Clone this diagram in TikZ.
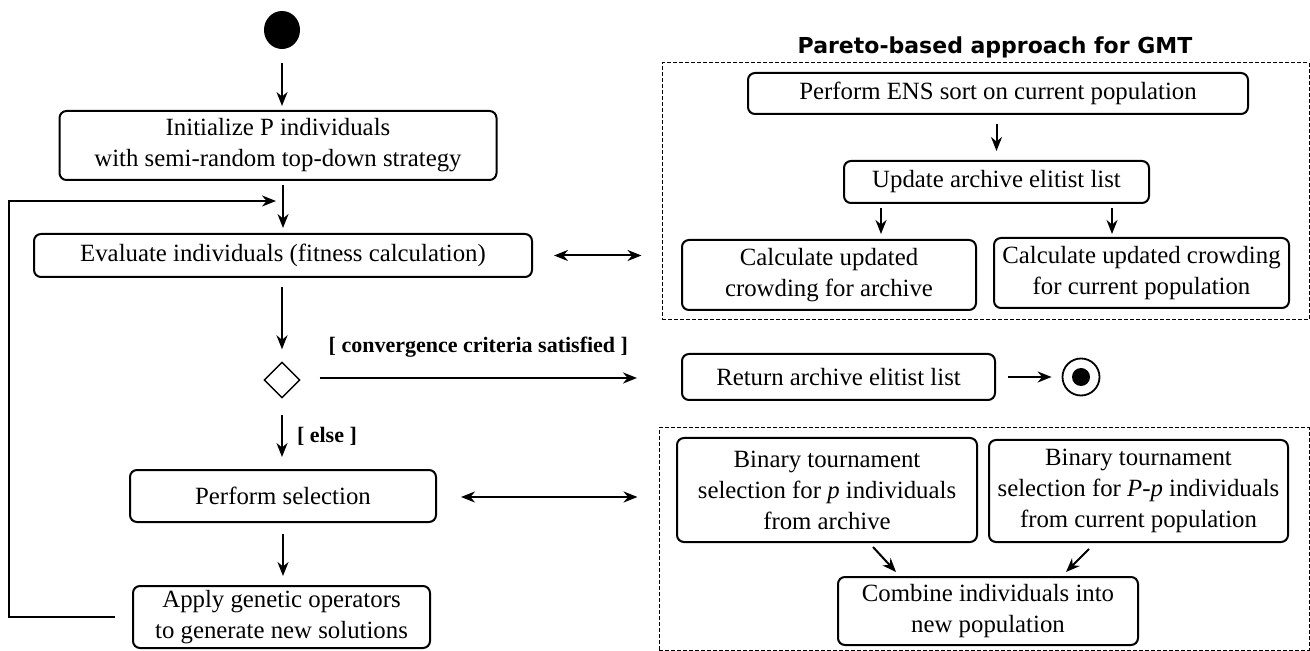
\documentclass[tikz,border=0pt]{standalone}
\usepackage{fontspec}
\setmainfont{Liberation Serif}
\newfontfamily\titlefont{DejaVu Sans}
\usetikzlibrary{arrows.meta,calc,shapes.geometric}
\tikzset{
  box/.style={draw, line width=1pt, rounded corners=3.5pt, align=center, inner sep=0pt,
    font=\fontsize{12.4}{15.5}\selectfont},
  dashbox/.style={draw, line width=0.5pt, dash pattern=on 2pt off 1pt, inner sep=0pt},
  arr/.style={line width=1pt, -{Stealth[length=7pt,width=5.5pt]}},
  darr/.style={line width=1pt, {Stealth[length=7pt,width=5.5pt]}-{Stealth[length=7pt,width=5.5pt]}},
  guard/.style={font=\fontsize{11}{13}\selectfont\bfseries, inner sep=0pt}
}
\begin{document}
\begin{tikzpicture}[x=0.5pt,y=-0.5pt]
\useasboundingbox (0,0) rectangle (1310,651);
% left column
\node[ellipse, fill=black, minimum width=18pt, minimum height=19pt, inner sep=0pt] (start) at (282,30) {};
\node[box, minimum width=218.5pt, minimum height=34.5pt] (init) at (278,145.5) {Initialize P individuals\\with semi-random top-down strategy};
\node[box, minimum width=249pt, minimum height=21.5pt] (eval) at (283,255.5) {Evaluate individuals (fitness calculation)};
\node[diamond, draw, line width=0.7pt, minimum width=18pt, minimum height=18pt, inner sep=0pt] (dec) at (282,380) {};
\node[box, minimum width=153pt, minimum height=26pt] (select) at (283,496) {Perform selection};
\node[box, minimum width=148.5pt, minimum height=31pt] (apply) at (281.5,617) {Apply genetic operators\\to generate new solutions};
% right upper
\node[font=\titlefont\fontsize{11}{13}\selectfont\bfseries, inner sep=0pt] (title) at (995,47) {Pareto-based approach for GMT};
\node[dashbox, minimum width=323.5pt, minimum height=128.5pt] (par1) at (985.5,191.5) {};
\node[box, minimum width=250pt, minimum height=20.5pt] (ens) at (998,93.5) {Perform ENS sort on current population};
\node[box, minimum width=152.5pt, minimum height=21pt] (update) at (996.5,182) {Update archive elitist list};
\node[box, minimum width=147pt, minimum height=35pt] (calcL) at (829,275) {Calculate updated\\crowding for archive};
\node[box, minimum width=147.5pt, minimum height=35pt] (calcR) at (1141.5,273) {Calculate updated crowding\\for current population};
% return
\node[box, minimum width=156.5pt, minimum height=23pt] (ret) at (838.5,377) {Return archive elitist list};
\node[circle, draw, line width=0.9pt, minimum size=18.5pt, inner sep=0pt] (end) at (1081,377) {};
\node[circle, fill=black, minimum size=9pt, inner sep=0pt] (endin) at (1081,377) {};
% right lower
\node[dashbox, minimum width=325pt, minimum height=111pt] (par2) at (984,539) {};
\node[box, minimum width=150pt, minimum height=52pt] (binL) at (827,490) {Binary tournament\\selection for \textit{p} individuals\\from archive};
\node[box, minimum width=149.5pt, minimum height=51pt] (binR) at (1138.5,491) {Binary tournament\\selection for \textit{P}-\textit{p} individuals\\from current population};
\node[box, minimum width=150pt, minimum height=34pt] (comb) at (988,611) {Combine individuals into\\new population};
% connectors
\draw[arr] ($(start.south)+(0,14)$) -- ($(init.north -| start.south)+(0,-4)$);
\draw[arr] ($(init.south -| eval.north)+(0,4)$) -- ($(eval.north)+(0,-5)$);
\coordinate (loopin) at (276,201);
\draw[arr] ($(apply.west)+(-17,0)$) -- (9,617) |- (loopin);
\draw[darr] ($(eval.east)+(21,0)$) -- ($(eval.east -| par1.west)+(-20,0)$);
\draw[arr] ($(eval.south -| dec.north)+(0,9)$) -- ($(dec.north)+(0,-12)$);
\draw[arr] ($(dec.east)+(19,-2)$) -- node[guard, above=10pt] {[ convergence criteria satisfied ]} ($(dec.east -| ret.west)+(-44,-2)$);
\draw[arr] ($(dec.south)+(0,16)$) -- node[guard, right=7pt] {[ else ]} ($(select.north -| dec.south)+(0,-12)$);
\draw[darr] ($(select.east)+(24,1)$) -- ($(select.east -| par2.west)+(-21,1)$);
\draw[arr] ($(select.south)+(0,11)$) -- ($(apply.north -| select.south)+(0,-9)$);
\draw[arr] ($(ens.south -| update.north)+(0,9)$) -- ($(update.north)+(0,-9)$);
\draw[arr] ($(update.south)+(-115.5,4)$) -- ($(calcL.north)+(52,-5)$);
\draw[arr] ($(update.south)+(115.5,4)$) -- ($(calcR.north)+(-29.5,-3)$);
\draw[arr] ($(ret.east)+(12,0)$) -- ($(end.west)+(-10,0)$);
\draw[arr] ($(binL.south)+(46,4)$) -- ($(comb.north)+(-92,-4)$);
\draw[arr] ($(binR.south)+(-49.5,6)$) -- ($(comb.north)+(78,-4)$);
\end{tikzpicture}
\end{document}
